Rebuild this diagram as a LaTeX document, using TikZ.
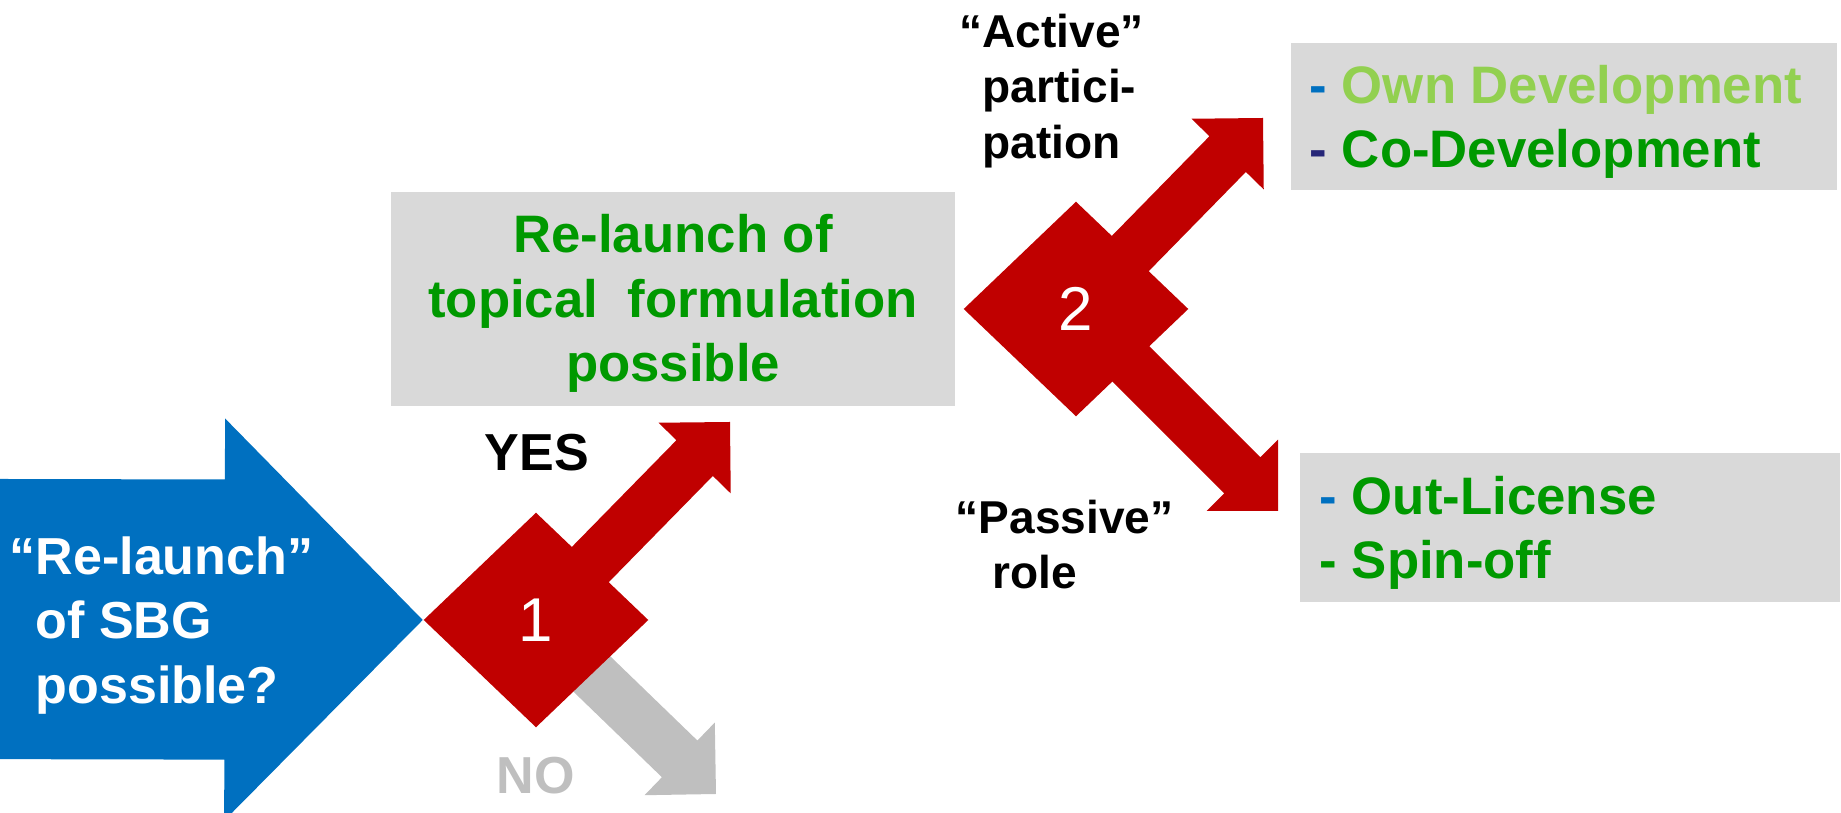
\documentclass[tikz,border=0pt]{standalone}
\usepackage{fontspec}
\setmainfont{Liberation Sans}
\usetikzlibrary{calc, positioning, shapes.geometric, backgrounds}

\definecolor{arrowred}{RGB}{192,0,0}
\definecolor{arrowblue}{RGB}{0,112,192}
\definecolor{arrowgray}{RGB}{191,191,191}
\definecolor{boxgray}{RGB}{217,217,217}
\definecolor{textgreen}{RGB}{0,153,0}
\definecolor{lightgreen}{RGB}{146,208,80}
\definecolor{dashnavy}{RGB}{38,38,120}

\newcommand{\blockarrow}[6]{%
  \coordinate (hb) at ($(#3)!#6!(#2)$);
  \fill[#1] ($(#2)!#4!90:(#3)$) -- ($(hb)!#4!90:(#3)$) -- ($(hb)!#5!90:(#3)$) -- (#3)
    -- ($(hb)!#5!-90:(#3)$) -- ($(hb)!#4!-90:(#3)$) -- ($(#2)!#4!-90:(#3)$) -- cycle;
}

\tikzset{
  decisionbox/.style={diamond, fill=arrowred, text=white, inner sep=0pt,
    minimum width=2.25cm, minimum height=2.15cm, font=\fontsize{17.6}{20}\selectfont},
  graybox/.style={fill=boxgray, inner sep=0pt},
  bigtext/.style={inner sep=0pt, font=\bfseries\fontsize{14.8}{18.35}\selectfont},
  greentext/.style={inner sep=0pt, text=textgreen, align=center, font=\bfseries\fontsize{15}{18.35}\selectfont},
  listtext/.style={inner sep=0pt, text=textgreen, align=left, font=\bfseries\fontsize{15}{18.2}\selectfont},
  steplabel/.style={inner sep=0pt, align=left, font=\bfseries\fontsize{13.1}{15.9}\selectfont},
}

\begin{document}
\begin{tikzpicture}[x=0.01cm, y=-0.01cm]
\useasboundingbox (0,0) rectangle (1841,813);
\clip (0,0) rectangle (1841,813);

\node[decisionbox] (Decision1) at (536,620) {1};
\node[decisionbox] (Decision2) at (1076,309) {2};

\node[graybox, minimum width=5.64cm, minimum height=2.14cm] (Topical) at (673,299) {};
\node[greentext] (TopicalText) at ([yshift=-0.045cm]Topical.center)
  {Re-launch of\\topical\ \ formulation\\possible};

\node[graybox, anchor=north west, minimum width=5.46cm, minimum height=1.47cm] (Active) at (1290,42) {};
\node[listtext, anchor=north west] (ActiveList) at ([shift={(19,23)}]Active.north west)
  {{\color{arrowblue}-} {\color{lightgreen}Own Development}\\{\color{dashnavy}-} Co-Development};

\node[graybox, anchor=north west, minimum width=5.40cm, minimum height=1.49cm] (Passive) at (1299,452) {};
\node[listtext, anchor=north west] (PassiveList) at ([shift={(20,24)}]Passive.north west)
  {{\color{arrowblue}-} Out-License\\- Spin-off};

\node[steplabel, anchor=north west] (ActiveLabel) at (982,13) {\llap{``}Active''\\partici-\\pation};
\node[steplabel, anchor=north west] (PassiveLabel) at (978,499) {\llap{``}Passive''\\\hspace*{0.3em}role};

\node[bigtext, anchor=base west] (Yes) at (484,471) {YES};
\node[bigtext, anchor=base west, text=arrowgray] (No) at (496,794) {NO};

\coordinate (SBGStart) at (-30,619);
\coordinate (YesTip) at (730,422);
\coordinate (NoTip) at (716,794);
\coordinate (ActiveTip) at (1263,118);
\coordinate (PassiveTip) at (1278,511);

\begin{scope}[on background layer]
\blockarrow{arrowblue}{SBGStart}{Decision1.west}{1.40cm}{2.01cm}{1.98cm}
\blockarrow{arrowgray}{Decision1.center}{NoTip}{0.255cm}{0.505cm}{0.505cm}
\blockarrow{arrowred}{Decision1.center}{YesTip}{0.255cm}{0.505cm}{0.505cm}
\blockarrow{arrowred}{Decision2.center}{ActiveTip}{0.255cm}{0.505cm}{0.505cm}
\blockarrow{arrowred}{Decision2.center}{PassiveTip}{0.255cm}{0.505cm}{0.505cm}
\end{scope}

\node[bigtext, text=white, align=left, anchor=north west] (SBG) at (35,536)
  {\llap{``}Re-launch''\\of SBG\\possible?};

\end{tikzpicture}
\end{document}
